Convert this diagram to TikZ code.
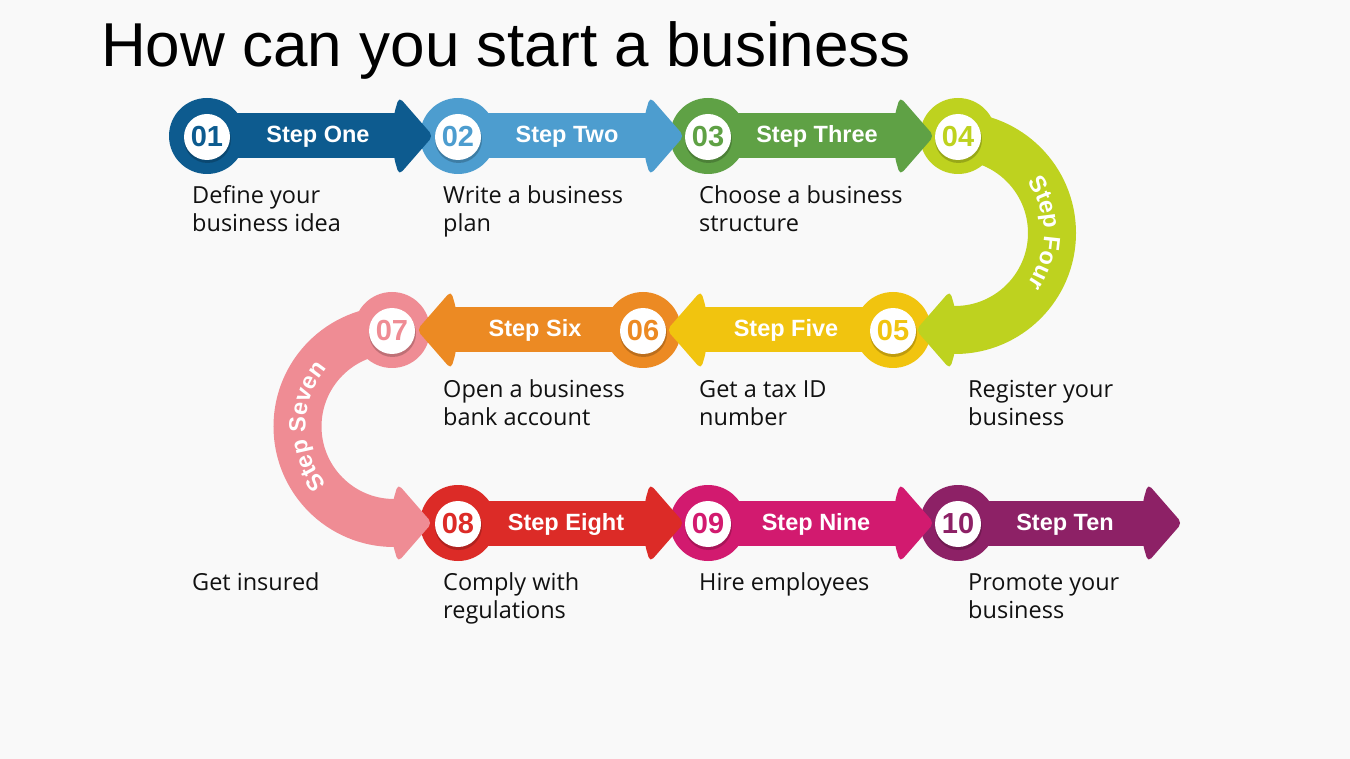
\documentclass[tikz,border=0pt]{standalone}
\usepackage{fontspec}
\setmainfont{Liberation Sans}
\newfontfamily\bodyfont{Open Sans}
\usetikzlibrary{decorations.text}
\definecolor{bgc}{HTML}{F9F9F9}
\definecolor{cA}{HTML}{0D5B8F}
\definecolor{cB}{HTML}{4D9DCF}
\definecolor{cC}{HTML}{5FA145}
\definecolor{cD}{HTML}{BED21F}
\definecolor{cE}{HTML}{F1C40F}
\definecolor{cF}{HTML}{EC8A23}
\definecolor{cG}{HTML}{EF8C94}
\definecolor{cH}{HTML}{DC2B27}
\definecolor{cI}{HTML}{D21A6F}
\definecolor{cJ}{HTML}{8D2166}
\definecolor{txt}{HTML}{111111}
\newcommand\lblfont{\bfseries\fontsize{23.5}{26}\selectfont}
\newcommand\SegBody[4]{% cx, cy, dir, colour
  \fill[#4] (#1,#2) circle[radius=38];
  \begin{scope}[shift={(#1,#2)},xscale=#3]
    \fill[#4] (0,-22.5) rectangle (193,22.5);
  \end{scope}}
\newcommand\SegHead[4]{% xback, cy, dir, colour
  \begin{scope}[shift={(#1,#2)},xscale=#3]
    \fill[#4, rounded corners=5pt] (-5,22) -- (0,39) -- (34,0) -- (0,-39) -- (-5,-22) -- cycle;
  \end{scope}}
\newcommand\Num[5]{% name, cx, cy, colour, text
  \fill[black, opacity=.2] (#2+0.5,#3-2.5) circle[radius=23.5];
  \fill[white] (#2,#3) circle[radius=23];
  \node[numtext, text=#4] (#1) at (#2,#3) {#5};}
\tikzset{
  numtext/.style={font=\bfseries\fontsize{29}{29}\selectfont, inner sep=0pt},
  steplbl/.style={font=\lblfont, text=white, anchor=base, inner sep=0pt},
  body/.style={font=\bodyfont\fontsize{23.5}{28}\selectfont, text=txt, anchor=base west, align=left, inner sep=0pt},
  arclbl/.style={decorate, decoration={text along path, text color=white, text align=center}},
}
\begin{document}
\begin{tikzpicture}[x=1pt,y=1pt]
\useasboundingbox (0,0) rectangle (1350,-759);
\fill[bgc] (0,0) rectangle (1350,-759);
% title
\node[anchor=base west, inner sep=0pt, font=\fontsize{62}{62}\selectfont] (title) at (101,-67) {How can you start a business};
% curved bands
\draw[cD, line width=48pt] (955,-136) arc[start angle=90, end angle=-90, radius=97] -- (946,-330);
\draw[cG, line width=48pt] (394,-330) arc[start angle=90, end angle=270, radius=96.5] -- (402,-523);
% bodies
\SegBody{207}{-136}{1}{cA}
\SegBody{458}{-136}{1}{cB}
\SegBody{708}{-136}{1}{cC}
\fill[cD] (958,-136) circle[radius=38];
\SegBody{893}{-330}{-1}{cE}
\SegBody{643}{-330}{-1}{cF}
\fill[cG] (392,-330) circle[radius=38];
\SegBody{458}{-523}{1}{cH}
\SegBody{708}{-523}{1}{cI}
\SegBody{958}{-523}{1}{cJ}
% heads
\SegHead{399}{-136}{1}{cA}
\SegHead{650}{-136}{1}{cB}
\SegHead{900}{-136}{1}{cC}
\SegHead{950}{-330}{-1}{cD}
\SegHead{701}{-330}{-1}{cE}
\SegHead{451}{-330}{-1}{cF}
\SegHead{398}{-523}{1}{cG}
\SegHead{650}{-523}{1}{cH}
\SegHead{900}{-523}{1}{cI}
\SegHead{1148}{-523}{1}{cJ}
% number circles
\Num{n1}{207}{-137}{cA}{01}
\Num{n2}{458}{-137}{cB}{02}
\Num{n3}{708}{-137}{cC}{03}
\Num{n4}{958}{-137}{cD}{04}
\Num{n5}{893}{-331}{cE}{05}
\Num{n6}{643}{-331}{cF}{06}
\Num{n7}{392}{-331}{cG}{07}
\Num{n8}{458}{-524}{cH}{08}
\Num{n9}{708}{-524}{cI}{09}
\Num{n10}{958}{-524}{cJ}{10}
% step labels
\node[steplbl] (s1) at (318,-143) {Step One};
\node[steplbl] (s2) at (567,-143) {Step Two};
\node[steplbl] (s3) at (817,-143) {Step Three};
\node[steplbl] (s5) at (786,-337) {Step Five};
\node[steplbl] (s6) at (535,-337) {Step Six};
\node[steplbl] (s8) at (566,-530) {Step Eight};
\node[steplbl] (s9) at (816,-530) {Step Nine};
\node[steplbl] (s10) at (1065,-530) {Step Ten};
\path[arclbl, decoration={text={|\lblfont|Step Four}}] (955,-233) ++(42:89) arc[start angle=42, end angle=-42, radius=89];
\path[arclbl, decoration={text={|\lblfont|Step Seven}}] (394,-426.5) ++(222:88.5) arc[start angle=222, end angle=138, radius=88.5];
% descriptions (anchor = baseline of last line)
\node[body] (t1) at (192,-232) {Define your\\business idea};
\node[body] (t2) at (443,-232) {Write a business\\plan};
\node[body] (t3) at (699,-232) {Choose a business\\structure};
\node[body] (t6) at (443,-425) {Open a business\\bank account};
\node[body] (t5) at (699,-425) {Get a tax ID\\number};
\node[body] (t4) at (968,-425) {Register your\\business};
\node[body] (t7) at (192,-590) {Get insured};
\node[body] (t8) at (443,-618) {Comply with\\regulations};
\node[body] (t9) at (699,-590) {Hire employees};
\node[body] (t10) at (968,-618) {Promote your\\business};
\end{tikzpicture}
\end{document}
